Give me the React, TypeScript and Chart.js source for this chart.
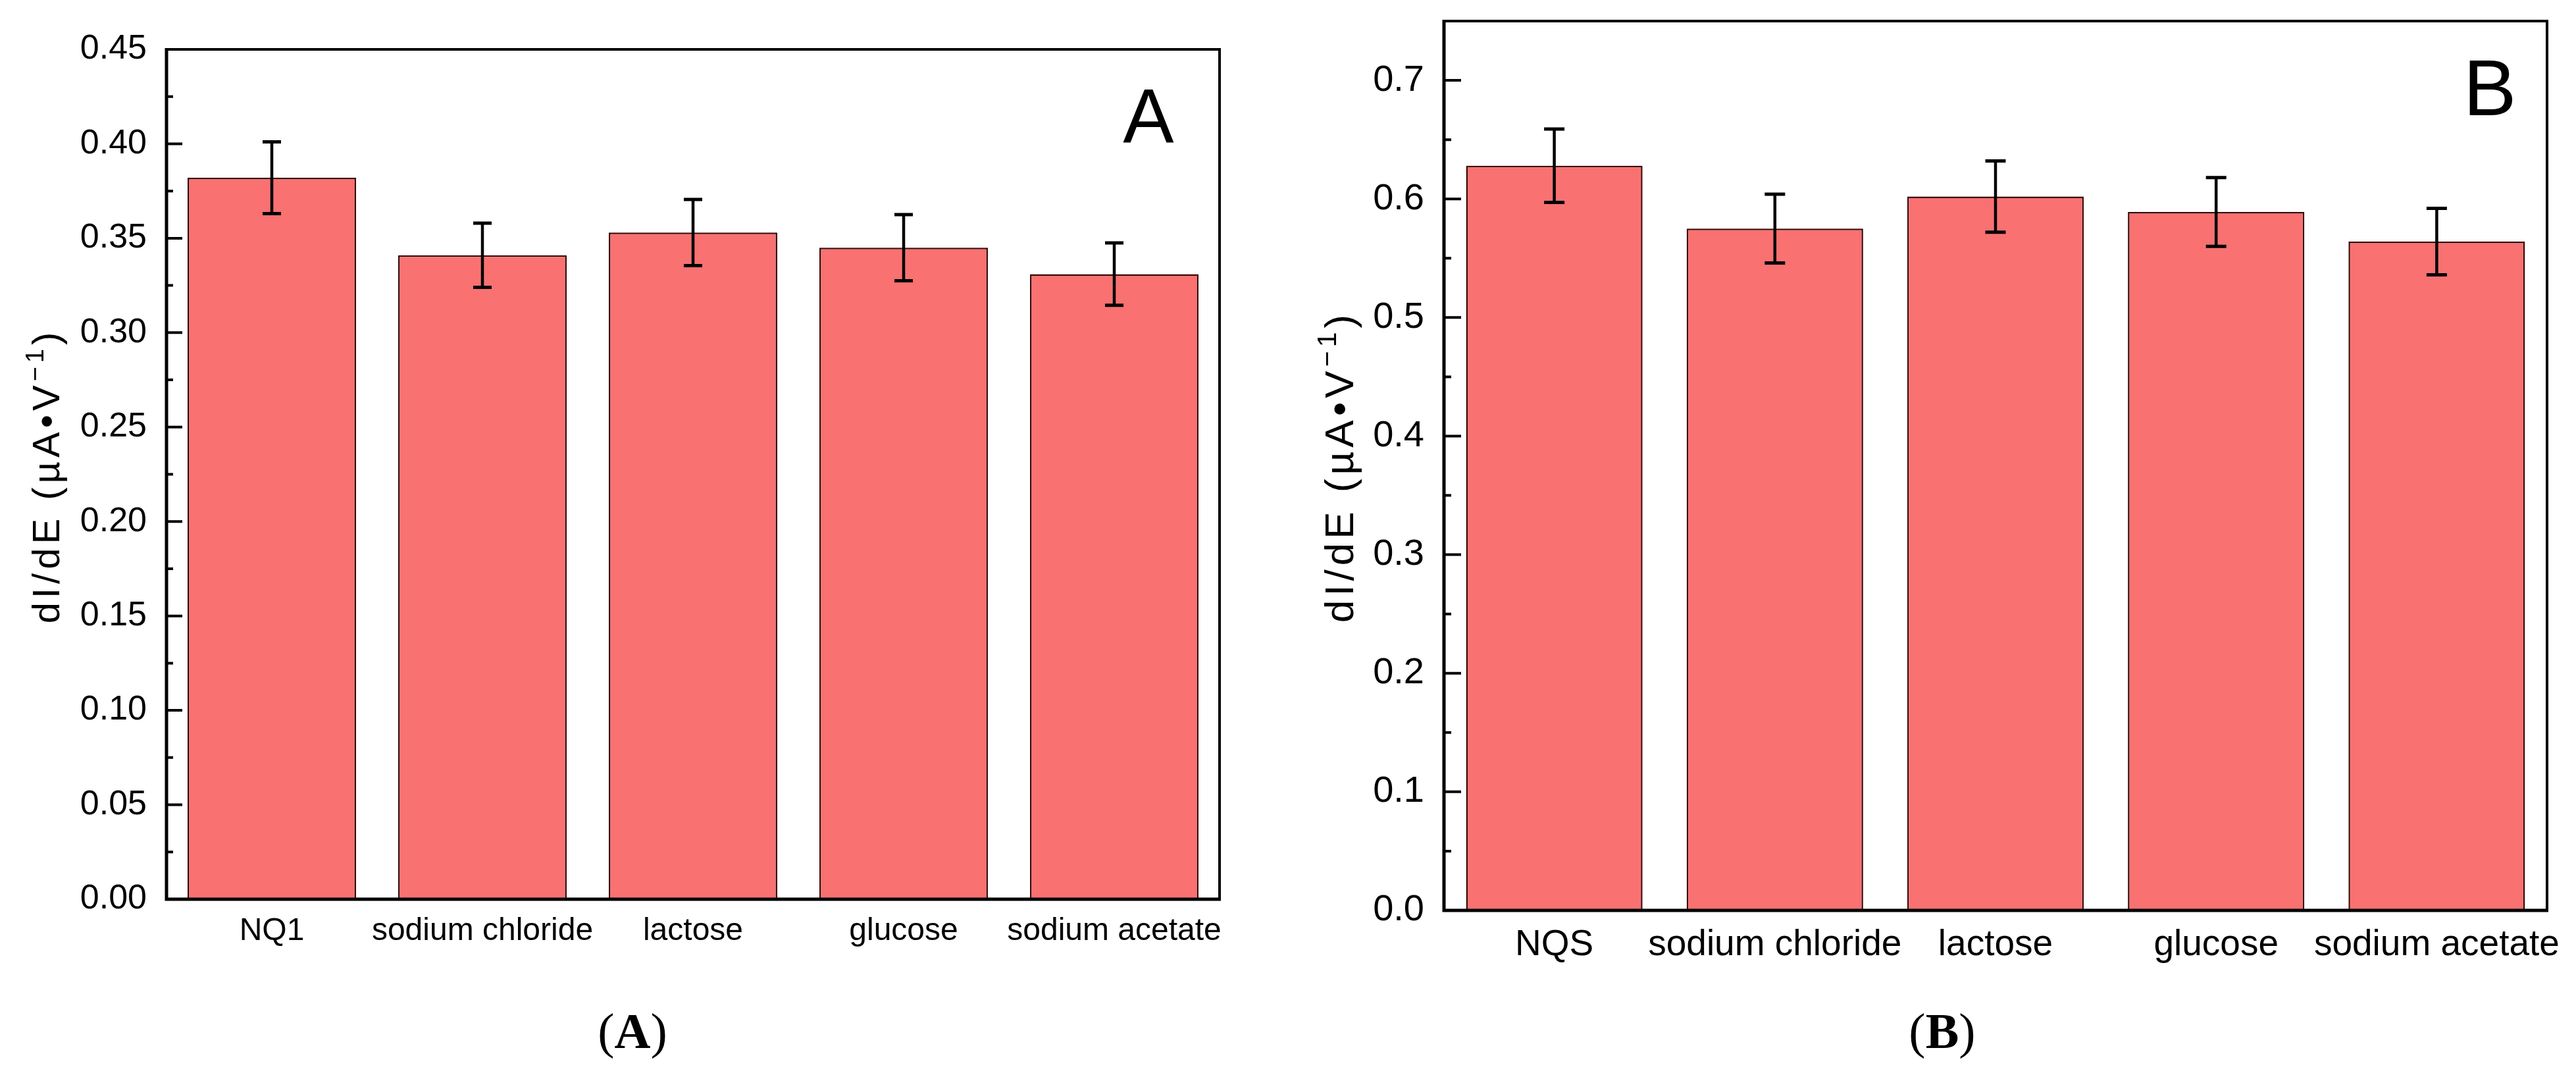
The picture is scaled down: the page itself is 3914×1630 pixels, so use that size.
import React, { useRef, useEffect } from 'react';
import { Chart } from 'chart.js/auto';

const categoriesA = ['NQ1', 'sodium chloride', 'lactose', 'glucose', 'sodium acetate'];
const valuesA = [0.382, 0.341, 0.353, 0.345, 0.331];
const errorsA = [0.019, 0.017, 0.0175, 0.0175, 0.0165];
const yTicksA = [0, 0.05, 0.1, 0.15, 0.2, 0.25, 0.3, 0.35, 0.4, 0.45];

const categoriesB = ['NQS', 'sodium chloride', 'lactose', 'glucose', 'sodium acetate'];
const valuesB = [0.628, 0.575, 0.602, 0.589, 0.564];
const errorsB = [0.031, 0.029, 0.030, 0.029, 0.028];
const yTicksB = [0, 0.1, 0.2, 0.3, 0.4, 0.5, 0.6, 0.7];

const SANS = '"Liberation Sans", Arial, sans-serif';
const SERIF = '"Liberation Serif", "Times New Roman", serif';
const BAR_FILL = '#F97171';
const BAR_EDGE = '#3a0a0a';

const W = 1957;
const H = 1480;

interface PanelLayout {
  plotLeft: number;
  plotRight: number;
  plotTop: number;
  plotBottom: number;
  tickFont: number;
  labelFont: number;
  titleFont: number;
  titleBaseX: number;
  titleCenterY: number;
  letterX: number;
  letterBaseY: number;
  letterFont: number;
  majorLen: number;
  minorLen: number;
  capHalf: number;
}

const layoutA: PanelLayout = {
  plotLeft: 253, plotRight: 1853, plotTop: 75, plotBottom: 1366,
  tickFont: 52, labelFont: 48, titleFont: 58, titleBaseX: 90, titleCenterY: 723,
  letterX: 1745, letterBaseY: 217, letterFont: 116,
  majorLen: 24, minorLen: 10, capHalf: 14,
};

const layoutB: PanelLayout = {
  plotLeft: 237, plotRight: 1913, plotTop: 32, plotBottom: 1383,
  tickFont: 56, labelFont: 55, titleFont: 62, titleBaseX: 99, titleCenterY: 709,
  letterX: 1826, letterBaseY: 175, letterFont: 121,
  majorLen: 26, minorLen: 11, capHalf: 15.5,
};

interface PanelProps {
  left: number;
  categories: string[];
  values: number[];
  errors: number[];
  yTicks: number[];
  yMax: number;
  decimals: number;
  letter: string;
  L: PanelLayout;
}

// error bars, inward ticks, frame, panel letter and the y title
const makeDecor = (p: PanelProps) => ({
  id: 'panelDecor',
  afterDatasetsDraw(chart: Chart) {
    const ctx = chart.ctx;
    const ys = chart.scales.y;
    const meta = chart.getDatasetMeta(0);
    ctx.save();
    ctx.strokeStyle = '#000';
    meta.data.forEach((bar: any, i: number) => {
      const x = bar.x;
      const yTop = ys.getPixelForValue(p.values[i] + p.errors[i]);
      const yBot = ys.getPixelForValue(p.values[i] - p.errors[i]);
      ctx.lineWidth = 4.5;
      ctx.beginPath();
      ctx.moveTo(x, yTop);
      ctx.lineTo(x, yBot);
      ctx.stroke();
      ctx.lineWidth = 5;
      ctx.beginPath();
      ctx.moveTo(x - p.L.capHalf, yTop);
      ctx.lineTo(x + p.L.capHalf, yTop);
      ctx.moveTo(x - p.L.capHalf, yBot);
      ctx.lineTo(x + p.L.capHalf, yBot);
      ctx.stroke();
    });
    ctx.restore();
  },
  afterDraw(chart: Chart) {
    const ctx = chart.ctx;
    const ys = chart.scales.y;
    const { left, right, top, bottom } = chart.chartArea;
    const L = p.L;
    ctx.save();
    ctx.strokeStyle = '#000';

    // inward major + minor ticks
    ctx.lineWidth = 4;
    ctx.beginPath();
    const step = p.yTicks[1] - p.yTicks[0];
    p.yTicks.forEach((v, i) => {
      const py = ys.getPixelForValue(v);
      ctx.moveTo(left, py);
      ctx.lineTo(left + L.majorLen, py);
      const mid = v + step / 2;
      if (mid < p.yMax - 1e-9) {
        const pm = ys.getPixelForValue(mid);
        ctx.moveTo(left, pm);
        ctx.lineTo(left + L.minorLen, pm);
      }
    });
    ctx.stroke();

    // frame
    ctx.lineWidth = 4;
    ctx.beginPath();
    ctx.moveTo(left, top);
    ctx.lineTo(right, top);
    ctx.lineTo(right, bottom);
    ctx.stroke();
    ctx.lineWidth = 5;
    ctx.beginPath();
    ctx.moveTo(left, top - 2);
    ctx.lineTo(left, bottom);
    ctx.lineTo(right + 2, bottom);
    ctx.stroke();

    // panel letter
    ctx.fillStyle = '#000';
    ctx.font = `${L.letterFont}px ${SANS}`;
    ctx.textAlign = 'center';
    ctx.textBaseline = 'alphabetic';
    ctx.fillText(p.letter, L.letterX, L.letterBaseY);

    // y axis title with superscript
    const fs = L.titleFont;
    const sup = Math.round(fs * 0.66);
    const parts = [
      { t: 'dI/dE (\u00B5A\u2022V', size: fs, dy: 0 },
      { t: '\u2212', size: sup, dy: -fs * 0.42 },
      { t: '1', size: sup, dy: -fs * 0.42 },
      { t: ')', size: fs, dy: 0 },
    ];
    ctx.translate(L.titleBaseX, L.titleCenterY);
    ctx.rotate(-Math.PI / 2);
    ctx.textAlign = 'left';
    (ctx as any).letterSpacing = '6px';
    const widths = parts.map((pt) => {
      ctx.font = `${pt.size}px ${SANS}`;
      return ctx.measureText(pt.t).width;
    });
    const total = widths.reduce((a, b) => a + b, 0);
    let x = -total / 2;
    parts.forEach((pt, i) => {
      ctx.font = `${pt.size}px ${SANS}`;
      ctx.fillText(pt.t, x, pt.dy);
      x += widths[i];
    });
    ctx.restore();
  },
});

const Panel: React.FC<PanelProps> = (props) => {
  const canvasRef = useRef<HTMLCanvasElement>(null);
  const chartRef = useRef<Chart | null>(null);

  useEffect(() => {
    if (!canvasRef.current) return;
    if (chartRef.current) chartRef.current.destroy();
    const ctx = canvasRef.current.getContext('2d');
    if (!ctx) return;
    const L = props.L;

    chartRef.current = new Chart(ctx, {
      type: 'bar',
      data: {
        labels: props.categories,
        datasets: [
          {
            data: props.values,
            backgroundColor: BAR_FILL,
            borderColor: BAR_EDGE,
            borderWidth: 2.5,
            barPercentage: 0.8,
            categoryPercentage: 1,
          },
        ],
      },
      options: {
        animation: false,
        responsive: false,
        devicePixelRatio: 1,
        layout: { padding: { left: 0, top: L.plotTop, right: W - L.plotRight, bottom: 0 } },
        plugins: { legend: { display: false }, tooltip: { enabled: false } },
        scales: {
          x: {
            grid: { display: false, drawTicks: false },
            border: { display: false },
            ticks: {
              color: '#000',
              font: { family: SANS, size: L.labelFont },
              padding: 20,
              maxRotation: 0,
              minRotation: 0,
              autoSkip: false,
            },
            afterFit: (s: any) => {
              s.height = H - L.plotBottom;
              s.paddingLeft = 0;
              s.paddingRight = 0;
            },
          },
          y: {
            min: 0,
            max: props.yMax,
            grid: { display: false, drawTicks: false },
            border: { display: false },
            ticks: {
              color: '#000',
              font: { family: SANS, size: L.tickFont },
              padding: 30,
              callback: (v: any) => Number(v).toFixed(props.decimals),
            },
            afterBuildTicks: (s: any) => {
              s.ticks = props.yTicks.map((v) => ({ value: v }));
            },
            afterFit: (s: any) => {
              s.width = L.plotLeft;
              s.paddingTop = 0;
              s.paddingBottom = 0;
            },
          },
        },
      },
      plugins: [makeDecor(props)],
    });

    return () => {
      if (chartRef.current) {
        chartRef.current.destroy();
        chartRef.current = null;
      }
    };
  }, [props]);

  return (
    <canvas
      ref={canvasRef}
      width={W}
      height={H}
      style={{ position: 'absolute', left: props.left, top: 0, width: W, height: H }}
    />
  );
};

const captionStyle = (cx: number): React.CSSProperties => ({
  position: 'absolute',
  left: cx,
  top: 1566,
  transform: 'translate(-50%, -50%)',
  fontFamily: SERIF,
  fontSize: 76,
  lineHeight: 1,
  whiteSpace: 'nowrap',
  color: '#000',
});

const panelA: PanelProps = {
  left: 0, categories: categoriesA, values: valuesA, errors: errorsA,
  yTicks: yTicksA, yMax: 0.45, decimals: 2, letter: 'A', L: layoutA,
};
const panelB: PanelProps = {
  left: W, categories: categoriesB, values: valuesB, errors: errorsB,
  yTicks: yTicksB, yMax: 0.75, decimals: 1, letter: 'B', L: layoutB,
};

export default function App() {
  return (
    <div style={{ position: 'absolute', left: 0, top: 0, width: 3914, height: 1630, background: '#fff', overflow: 'hidden' }}>
      <Panel {...panelA} />
      <Panel {...panelB} />
      <div style={captionStyle(961)}>(<b>A</b>)</div>
      <div style={captionStyle(2951)}>(<b>B</b>)</div>
    </div>
  );
}
